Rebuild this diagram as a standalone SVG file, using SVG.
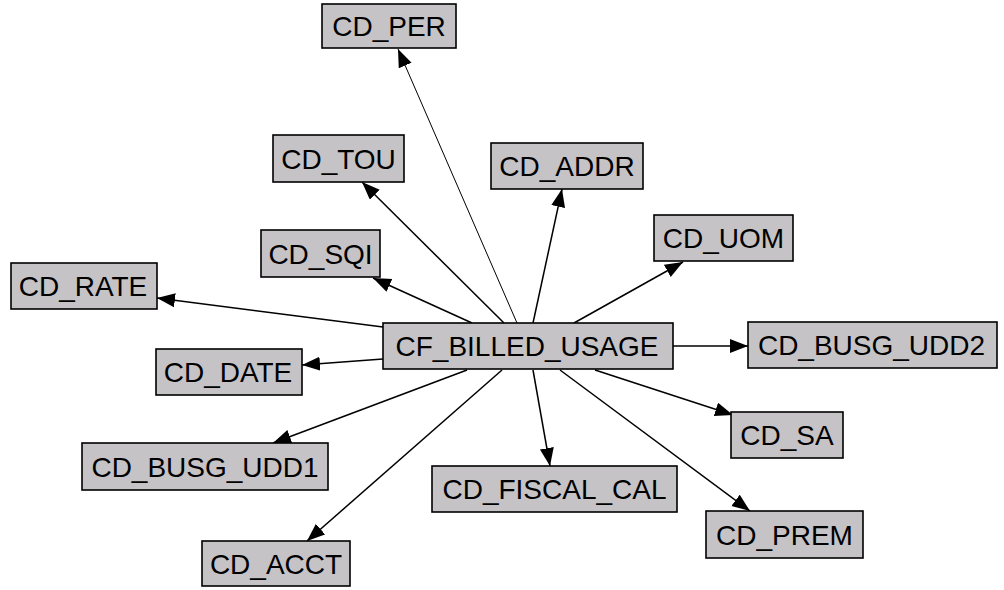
<svg xmlns="http://www.w3.org/2000/svg" width="1004" height="590" viewBox="0 0 1004 590">
<style>
.n rect{fill:#c6c3c6;stroke:#000;stroke-width:1.6}
.n text{font-family:"Liberation Sans",Arial,sans-serif;font-size:28px;fill:#000;text-anchor:middle}
.e line{stroke:#000;stroke-width:1.5;marker-end:url(#ah)}
.e line.thin{stroke-width:1}
</style>
<defs>
<marker id="ah" markerUnits="userSpaceOnUse" markerWidth="20" markerHeight="16" refX="18" refY="7" orient="auto">
<path d="M0,0 L18,7 L0,14 z" fill="#000"/>
</marker>
</defs>
<rect width="1004" height="590" fill="#fff"/>
<g class="e" id="connectors">
<line class="thin" x1="517" y1="323" x2="398" y2="49"/>
<line x1="504" y1="323" x2="362" y2="182"/>
<line x1="472" y1="323" x2="373" y2="278"/>
<line x1="533" y1="323" x2="562" y2="189"/>
<line x1="574" y1="323" x2="683" y2="262"/>
<line x1="383" y1="327" x2="157" y2="298"/>
<line x1="383" y1="359" x2="302" y2="365"/>
<line x1="673" y1="346" x2="748" y2="346"/>
<line x1="467" y1="370" x2="273" y2="443"/>
<line x1="502" y1="370" x2="307" y2="541"/>
<line x1="533" y1="370" x2="550" y2="466"/>
<line x1="560" y1="370" x2="750" y2="511"/>
<line x1="595" y1="370" x2="733" y2="415"/>
</g>
<g class="n" id="CD_PER"><rect x="322" y="4" width="134" height="44"/><text x="389" y="36">CD_PER</text></g>
<g class="n" id="CD_TOU"><rect x="273" y="135" width="131" height="47"/><text x="338.5" y="168.5">CD_TOU</text></g>
<g class="n" id="CD_SQI"><rect x="261" y="230" width="119" height="47"/><text x="320.5" y="263.5">CD_SQI</text></g>
<g class="n" id="CD_ADDR"><rect x="491" y="143" width="152" height="46"/><text x="567" y="176">CD_ADDR</text></g>
<g class="n" id="CD_UOM"><rect x="654" y="215" width="139" height="46"/><text x="723.5" y="248">CD_UOM</text></g>
<g class="n" id="CD_RATE"><rect x="11" y="263" width="146" height="46"/><text x="83" y="296">CD_RATE</text></g>
<g class="n" id="CF_BILLED_USAGE"><rect x="383" y="323" width="290" height="46"/><text x="527" y="356">CF_BILLED_USAGE</text></g>
<g class="n" id="CD_BUSG_UDD2"><rect x="748" y="322" width="249" height="46"/><text x="871.5" y="355">CD_BUSG_UDD2</text></g>
<g class="n" id="CD_DATE"><rect x="156" y="349" width="146" height="46"/><text x="228" y="382">CD_DATE</text></g>
<g class="n" id="CD_SA"><rect x="731" y="412" width="112" height="46"/><text x="787" y="445">CD_SA</text></g>
<g class="n" id="CD_BUSG_UDD1"><rect x="82" y="443" width="246" height="47"/><text x="205" y="476.5">CD_BUSG_UDD1</text></g>
<g class="n" id="CD_FISCAL_CAL"><rect x="432" y="466" width="245" height="46"/><text x="554.5" y="499">CD_FISCAL_CAL</text></g>
<g class="n" id="CD_PREM"><rect x="706" y="511" width="157" height="47"/><text x="784.5" y="544.5">CD_PREM</text></g>
<g class="n" id="CD_ACCT"><rect x="202" y="541" width="148" height="45"/><text x="276" y="573.5">CD_ACCT</text></g>
</svg>
